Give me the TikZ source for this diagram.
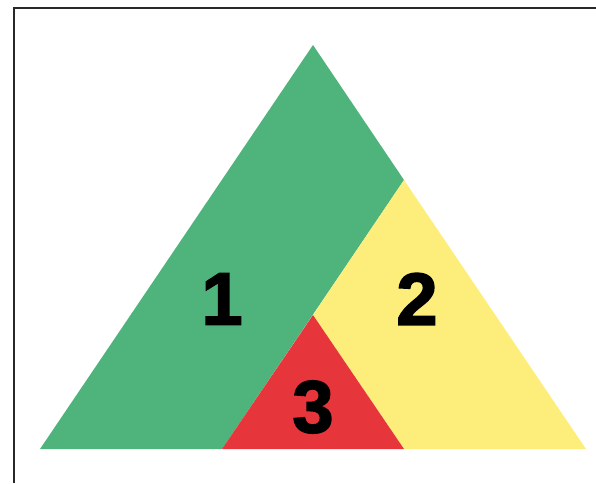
\documentclass[tikz,border=0pt]{standalone}
\usepackage{fontspec}
\setmainfont{Liberation Sans}
\newfontfamily\heavyfont{Liberation Sans}[BoldFeatures={FakeBold=2.2}]
\definecolor{pgreen}{RGB}{79, 180, 124}
\definecolor{pyellow}{RGB}{253, 238, 124}
\definecolor{pred}{RGB}{231, 54, 59}
\definecolor{frame}{RGB}{40, 40, 40}
\tikzset{
  % Region label (big heavy digit).
  region-label/.style={
    font=\fontsize{74}{74}\selectfont\heavyfont\bfseries,
    text=black, inner sep=0pt,
  },
  part/.style={draw=none},
}

\begin{document}
\begin{tikzpicture}[x=1pt, y=-1pt]
  \useasboundingbox (0, 0) rectangle (596, 483);

  % Frame (only top and left edges are visible).
  \draw[frame, line width=1.3pt] (14, 483) -- (14, 8) -- (596, 8);

  % Corner points of the big triangle and its cuts.
  \coordinate (apex) at (313, 45);
  \coordinate (bl)   at (40, 449);
  \coordinate (br)   at (586, 449);
  \coordinate (rcut) at (404, 180);
  \coordinate (bmid) at (222, 449);
  \coordinate (rtop) at (313, 315);
  \coordinate (bmr)  at (404, 449);

  % Regions.
  \fill[part, pgreen]  (bl) -- (apex) -- (rcut) -- (bmid) -- cycle;
  \fill[part, pyellow] (rcut) -- (br) -- (bmr) -- (rtop) -- cycle;
  \fill[part, pred]    (bmid) -- (rtop) -- (bmr) -- cycle;

  % Labels.
  \node[region-label] (one)   at (222, 299) {1};
  \node[region-label] (two)   at (417, 299) {2};
  \node[region-label] (three) at (313, 407) {3};
\end{tikzpicture}
\end{document}
